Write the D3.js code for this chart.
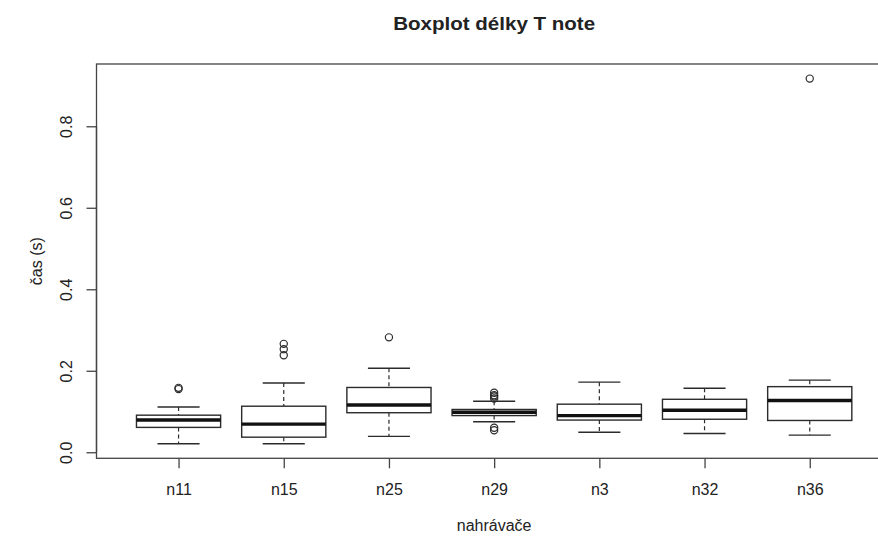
<!DOCTYPE html>
<html>
<head>
<meta charset="utf-8">
<script src="https://cdn.jsdelivr.net/npm/d3@7"></script>
<style>
  html, body { margin: 0; padding: 0; background: #fff; }
  svg { display: block; }
  text { font-family: "Liberation Sans", Arial, sans-serif; fill: #222; }
</style>
</head>
<body>
<svg id="chart" width="878" height="542"></svg>
<script>
// Box statistics per recorder (seconds)
const categories   = ["n11", "n15", "n25", "n29", "n3", "n32", "n36"];
const lowerWhisker = [0.021, 0.021, 0.039, 0.075, 0.049, 0.046, 0.042];
const q1           = [0.061, 0.037, 0.097, 0.090, 0.079, 0.081, 0.078];
const median       = [0.079, 0.069, 0.116, 0.098, 0.090, 0.103, 0.127];
const q3           = [0.091, 0.113, 0.159, 0.105, 0.118, 0.130, 0.161];
const upperWhisker = [0.111, 0.170, 0.206, 0.125, 0.172, 0.157, 0.177];
const outliers     = [
  [0.155, 0.158],
  [0.238, 0.253, 0.266],
  [0.282],
  [0.054, 0.060, 0.132, 0.137, 0.140, 0.146],
  [],
  [],
  [0.917]
];
const yTicks      = [0.0, 0.2, 0.4, 0.6, 0.8];
const yTickLabels = ["0.0", "0.2", "0.4", "0.6", "0.8"];
const title  = "Boxplot délky T note";
const xTitle = "nahrávače";
const yTitle = "čas (s)";

const svg = d3.select("#chart");
const W = 878, H = 542;
const plot = { left: 96.5, top: 64, right: 891.8, bottom: 458.3 };

// data range padded by 4% on each side
const allVals = lowerWhisker.concat(upperWhisker, outliers.flat());
const lo = d3.min(allVals), hi = d3.max(allVals);
const pad = (hi - lo) * 0.04;

const n = categories.length;
const xpad = n * 0.04;
const x = d3.scaleLinear()
  .domain([0.5 - xpad, n + 0.5 + xpad])
  .range([plot.left, plot.right]);
const y = d3.scaleLinear()
  .domain([lo - pad, hi + pad])
  .range([plot.bottom, plot.top]);

const boxW = (x(1.4) - x(0.6));
const capW = boxW / 2;
const ink = "#2b2b2b";

svg.append("rect").attr("width", W).attr("height", H).attr("fill", "#fff");

const g = svg.append("g");

categories.forEach((c, i) => {
  const cx = x(i + 1);
  const grp = g.append("g");
  // dashed whiskers
  grp.append("line")
    .attr("x1", cx).attr("x2", cx)
    .attr("y1", y(upperWhisker[i])).attr("y2", y(q3[i]))
    .attr("stroke", ink).attr("stroke-width", 1.2)
    .attr("stroke-dasharray", "4,3");
  grp.append("line")
    .attr("x1", cx).attr("x2", cx)
    .attr("y1", y(q1[i])).attr("y2", y(lowerWhisker[i]))
    .attr("stroke", ink).attr("stroke-width", 1.2)
    .attr("stroke-dasharray", "4,3");
  // whisker caps
  [upperWhisker[i], lowerWhisker[i]].forEach(v => {
    grp.append("line")
      .attr("x1", cx - capW / 2).attr("x2", cx + capW / 2)
      .attr("y1", y(v)).attr("y2", y(v))
      .attr("stroke", ink).attr("stroke-width", 1.4);
  });
  // box
  grp.append("rect")
    .attr("x", cx - boxW / 2).attr("width", boxW)
    .attr("y", y(q3[i])).attr("height", y(q1[i]) - y(q3[i]))
    .attr("fill", "#fff").attr("stroke", ink).attr("stroke-width", 1.4);
  // median
  grp.append("line")
    .attr("x1", cx - boxW / 2).attr("x2", cx + boxW / 2)
    .attr("y1", y(median[i])).attr("y2", y(median[i]))
    .attr("stroke", "#111").attr("stroke-width", 3.4);
  // outliers
  grp.selectAll("circle.out").data(outliers[i]).enter()
    .append("circle")
    .attr("cx", cx).attr("cy", d => y(d)).attr("r", 3.6)
    .attr("fill", "none").attr("stroke", ink).attr("stroke-width", 1.2);
});

// plot frame
svg.append("rect")
  .attr("x", plot.left).attr("y", plot.top)
  .attr("width", plot.right - plot.left).attr("height", plot.bottom - plot.top)
  .attr("fill", "none").attr("stroke", "#444").attr("stroke-width", 1.3);

// y axis
const yAxis = d3.axisLeft(y).tickValues(yTicks)
  .tickFormat((d, k) => yTickLabels[k]).tickSize(10).tickPadding(0);
const ya = svg.append("g").attr("transform", `translate(${plot.left},0)`).call(yAxis);
ya.select(".domain").attr("d", `M0,${y(yTicks[0])}V${y(yTicks[yTicks.length - 1])}`)
  .attr("stroke", "#444").attr("stroke-width", 1.3);
ya.selectAll(".tick line").attr("stroke", "#444").attr("stroke-width", 1.3);
ya.selectAll(".tick text")
  .attr("x", null).attr("dy", null)
  .attr("transform", `translate(-30,0) rotate(-90)`)
  .attr("text-anchor", "middle").attr("dominant-baseline", "central")
  .style("font-family", "'Liberation Sans', Arial, sans-serif")
  .style("font-size", "16px").attr("fill", "#333");

// x axis
const xAxis = d3.axisBottom(x).tickValues(d3.range(1, n + 1))
  .tickFormat(d => categories[d - 1]).tickSize(10).tickPadding(15);
const xa = svg.append("g").attr("transform", `translate(0,${plot.bottom})`).call(xAxis);
xa.select(".domain").remove();
xa.selectAll(".tick line").attr("stroke", "#444").attr("stroke-width", 1.3);
xa.selectAll(".tick text")
  .style("font-family", "'Liberation Sans', Arial, sans-serif")
  .style("font-size", "16px").attr("fill", "#333");

// titles
svg.append("text")
  .attr("x", (plot.left + plot.right) / 2).attr("y", 30)
  .attr("text-anchor", "middle")
  .attr("textLength", 202).attr("lengthAdjust", "spacingAndGlyphs")
  .style("font-size", "19px").style("font-weight", "bold").attr("fill", "#111")
  .text(title);
svg.append("text")
  .attr("x", (plot.left + plot.right) / 2).attr("y", 531)
  .attr("text-anchor", "middle")
  .style("font-size", "16px").attr("fill", "#333")
  .text(xTitle);
svg.append("text")
  .attr("transform", `translate(36,${(plot.top + plot.bottom) / 2}) rotate(-90)`)
  .attr("text-anchor", "middle").attr("dominant-baseline", "central")
  .style("font-size", "16px").attr("fill", "#333")
  .text(yTitle);
</script>
</body>
</html>
